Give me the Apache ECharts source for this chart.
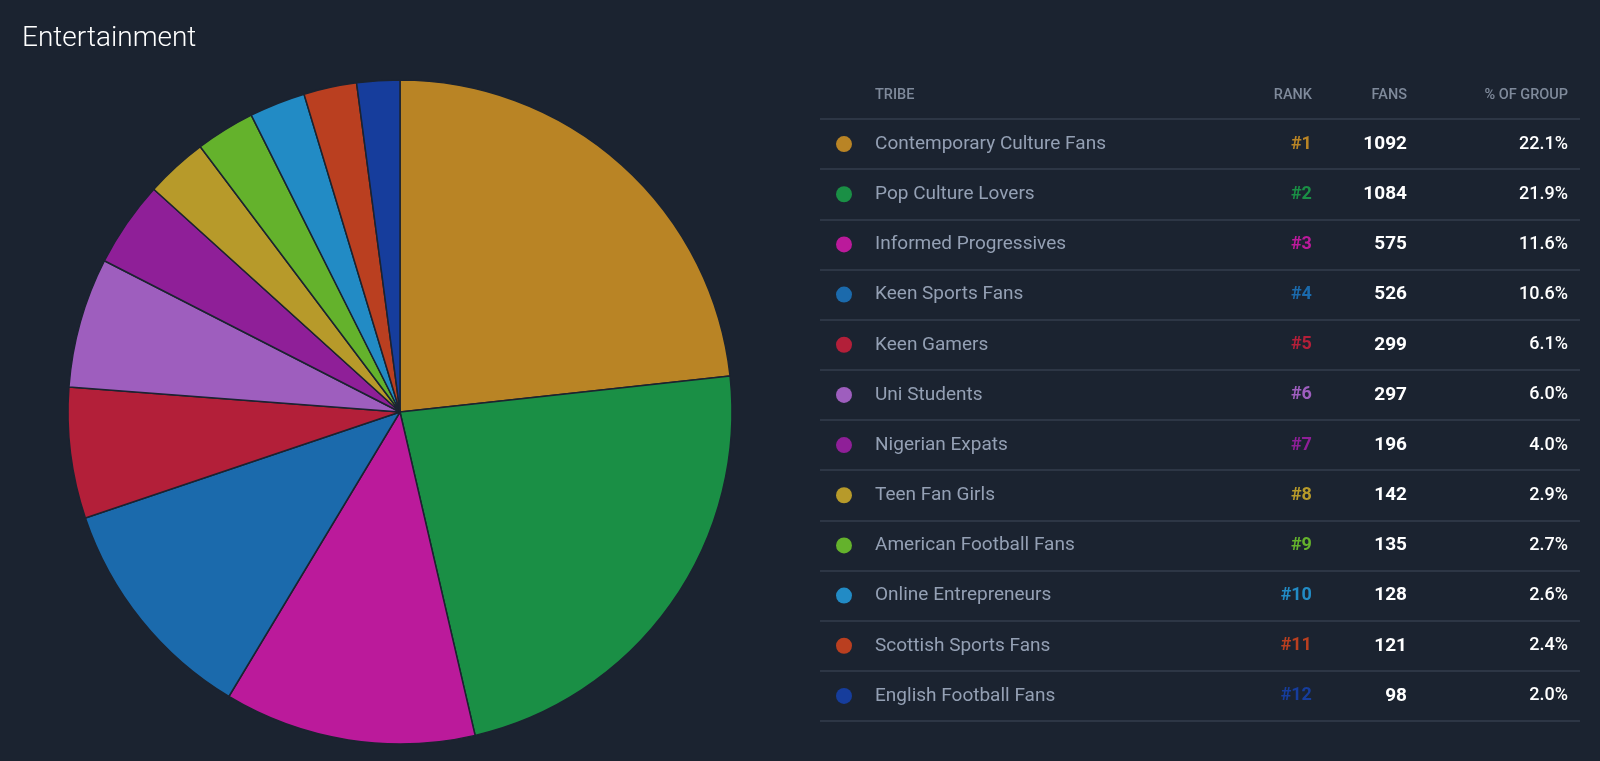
<!DOCTYPE html>
<html><head><meta charset="utf-8">
<script src="https://cdn.jsdelivr.net/npm/echarts@6/dist/echarts.min.js"></script>
<style>html,body{margin:0;padding:0;background:#1b2330;}#c{width:1600px;height:761px;}</style>
</head><body><div id="c"></div>
<script>
const tribes = ["Contemporary Culture Fans","Pop Culture Lovers","Informed Progressives","Keen Sports Fans","Keen Gamers","Uni Students","Nigerian Expats","Teen Fan Girls","American Football Fans","Online Entrepreneurs","Scottish Sports Fans","English Football Fans"];
const ranks = ["#1","#2","#3","#4","#5","#6","#7","#8","#9","#10","#11","#12"];
const fans = [1092,1084,575,526,299,297,196,142,135,128,121,98];
const pctOfGroup = ["22.1%","21.9%","11.6%","10.6%","6.1%","6.0%","4.0%","2.9%","2.7%","2.6%","2.4%","2.0%"];
const colors = ["#b98425","#1a8f45","#bb1a9b","#1b6aac","#b31f39","#9e5ebe","#8f1f98","#b79a2a","#64b22c","#228bc5","#ba3f20","#163d9c"];
const headers = ["TRIBE","RANK","FANS","% OF GROUP"];

const FONT = "Roboto, 'Noto Sans', sans-serif";
const chart = echarts.init(document.getElementById('c'));
const BG = '#1b2330';

function colSeries(x, pos, fmt, style) {
  return {
    type: 'scatter', symbolSize: 0.1, silent: true,
    itemStyle: { opacity: 1 },
    data: tribes.map((t, i) => ({ value: [x, t] })),
    label: Object.assign({ show: true, position: pos, distance: 0, fontFamily: FONT,
      formatter: p => fmt(p.dataIndex) }, style)
  };
}

chart.setOption({
  backgroundColor: BG,
  animation: false,
  title: { text: 'Entertainment', left: 17, top: 20,
    textStyle: { color: '#ffffff', fontSize: 28, fontWeight: 300, fontFamily: FONT } },
  grid: { left: 820, right: 20, top: 119, bottom: 40 },
  xAxis: { type: 'value', min: 0, max: 760, show: false },
  yAxis: { type: 'category', data: tribes, inverse: true, boundaryGap: true,
    axisLine: { show: false }, axisTick: { show: false }, axisLabel: { show: false },
    splitLine: { show: true, interval: 0, lineStyle: { color: '#343e4d', width: 1.5 } } },
  graphic: headers.map((h, i) => ({
    type: 'text', silent: true,
    x: [875, 1312, 1407, 1568][i], y: 95,
    style: { text: h, fill: '#7f8a9b', font: '500 14.5px ' + FONT,
      align: i === 0 ? 'left' : 'right', verticalAlign: 'middle' }
  })),
  series: [
    {
      type: 'pie', center: [400, 412], radius: 332, startAngle: 90, clockwise: true,
      label: { show: false }, labelLine: { show: false }, silent: true,
      itemStyle: { borderColor: BG, borderWidth: 1.5 },
      data: tribes.map((t, i) => ({ name: t, value: fans[i], itemStyle: { color: colors[i] } }))
    },
    {
      type: 'scatter', symbol: 'circle', symbolSize: 16, silent: true,
      data: tribes.map((t, i) => ({ value: [24, t], itemStyle: { color: colors[i], opacity: 1 } }))
    },
    colSeries(55, 'right', i => tribes[i], { color: '#94a0b4', fontSize: 19 }),
    {
      type: 'scatter', symbolSize: 0.1, silent: true, itemStyle: { opacity: 1 },
      data: tribes.map((t, i) => ({ value: [492, t],
        label: { show: true, position: 'left', distance: 0, formatter: ranks[i], color: colors[i],
          fontSize: 18, fontWeight: 'bold', fontFamily: FONT } }))
    },
    colSeries(587, 'left', i => String(fans[i]), { color: '#ffffff', fontSize: 19, fontWeight: 'bold' }),
    colSeries(748, 'left', i => pctOfGroup[i], { color: '#ffffff', fontSize: 18, fontWeight: 500 })
  ]
});
</script></body></html>
